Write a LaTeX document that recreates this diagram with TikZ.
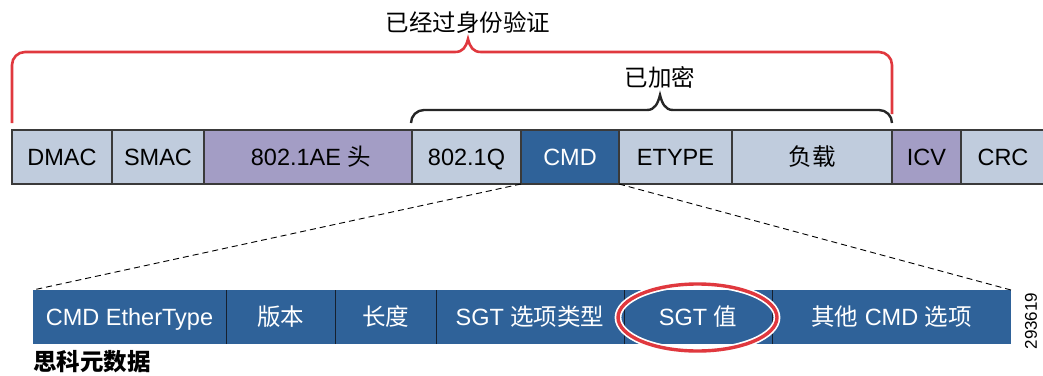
\documentclass[tikz,border=0pt]{standalone}
\usepackage{fontspec}
\setmainfont{Liberation Sans}
\newfontfamily\cjk{Noto Sans CJK SC}
\usetikzlibrary{shapes.geometric}
\definecolor{lightbox}{HTML}{C0CCDD}
\definecolor{purplebox}{HTML}{A39DC5}
\definecolor{darkbox}{HTML}{2F6299}
\definecolor{edgegray}{HTML}{3A3A3A}
\definecolor{sepnavy}{HTML}{16202E}
\definecolor{bracered}{HTML}{E0383E}
\newcommand{\bigfont}{\fontsize{23.5}{28}\selectfont}
\begin{document}
\begin{tikzpicture}[x=1pt,y=-1pt,
  fld/.style={draw=edgegray, line width=1.4pt, minimum height=54pt, inner sep=0pt, outer sep=0pt, anchor=north west, font=\bigfont, text height=20pt, text depth=3.2pt},
  lite/.style={fld, fill=lightbox},
  purp/.style={fld, fill=purplebox},
  darkf/.style={fld, fill=darkbox, text=white},
  bfld/.style={fill=darkbox, text=white, minimum height=54pt, inner sep=0pt, outer sep=0pt, anchor=north west, font=\bigfont, text height=20pt, text depth=3.2pt},
  sepline/.style={draw=sepnavy, line width=1pt},
  redbrace/.style={draw=bracered, line width=2.6pt},
  blackbrace/.style={draw=black!85, line width=2.4pt},
  zoomline/.style={draw=black, line width=0.9pt, dash pattern=on 6pt off 4pt},
  lbl/.style={font=\bigfont, inner sep=0pt}
]
\useasboundingbox (0,0) rectangle (1043,375);
% top frame
\node[lite, minimum width=100pt] (dmac) at (12,130) {DMAC};
\node[lite, minimum width=92pt] (smac) at (112,130) {SMAC};
\node[purp, minimum width=208pt] (ae) at (204,130) {\hspace*{6pt}802.1AE {\cjk 头}};
\node[lite, minimum width=109pt] (q) at (412,130) {802.1Q};
\node[darkf, minimum width=98pt] (cmd) at (521,130) {CMD};
\node[lite, minimum width=113pt] (etype) at (619,130) {ETYPE};
\node[lite, minimum width=160pt] (pay) at (732,130) {\cjk 负载};
\node[purp, minimum width=69pt] (icv) at (892,130) {ICV};
\node[lite, minimum width=84pt] (crc) at (961,130) {CRC};
% braces
\draw[redbrace] (12,123) -- (12,65) .. controls (12,57.8) and (17.8,52) .. (25,52)
  -- (455,52) .. controls (463,52) and (466,47) .. (468,39)
  .. controls (470,47) and (473,52) .. (481,52)
  -- (879,52) .. controls (886.2,52) and (892,57.8) .. (892,65) -- (892,114);
\draw[blackbrace] (411,123) .. controls (411,115.8) and (416.8,110) .. (424,110)
  -- (647,110) .. controls (655,110) and (658,103) .. (660,95)
  .. controls (662,103) and (665,110) .. (673,110)
  -- (879,110) .. controls (886.2,110) and (892,115.8) .. (892,123);
\node[lbl] (auth) at (468,23) {\cjk 已经过身份验证};
\node[lbl] (enc) at (660,77) {\cjk 已加密};
% bottom frame
\node[bfld, minimum width=193pt] (eth) at (33,290) {CMD EtherType};
\node[bfld, minimum width=109pt] (ver) at (226,290) {\cjk 版本};
\node[bfld, minimum width=101pt] (len) at (335,290) {\cjk 长度};
\node[bfld, minimum width=188pt] (opt) at (436,290) {SGT {\cjk 选项类型}};
\node[bfld, minimum width=148pt] (val) at (624,290) {};
\node[bfld, minimum width=239pt] (oth) at (772,290) {{\cjk 其他} CMD {\cjk 选项}};
\draw[sepline] (eth.north east) -- (eth.south east);
\draw[sepline] (ver.north east) -- (ver.south east);
\draw[sepline] (len.north east) -- (len.south east);
\draw[sepline] (opt.north east) -- (opt.south east);
\draw[sepline] (val.north east) -- (val.south east);
\node[ellipse, draw=bracered, line width=3.4pt, minimum width=159pt, minimum height=67pt, inner sep=0pt,
  preaction={draw=white, line width=6.8pt}] (ring) at (697.5,317.5) {};
\node[font=\bigfont, text=white, inner sep=0pt, text height=20pt, text depth=3.2pt] (valtext) at (val.center) {SGT {\cjk 值}};
% zoom lines
\draw[zoomline] (cmd.south west) -- (eth.north west);
\draw[zoomline] (cmd.south east) -- (oth.north east);
\node[anchor=west, inner sep=0pt, font=\bigfont] (meta) at (33,362) {\cjk\bfseries 思科元数据};
\node[rotate=90, inner sep=0pt, font=\fontsize{17}{20}\selectfont] (fig) at (1031,321) {293619};
\end{tikzpicture}
\end{document}
